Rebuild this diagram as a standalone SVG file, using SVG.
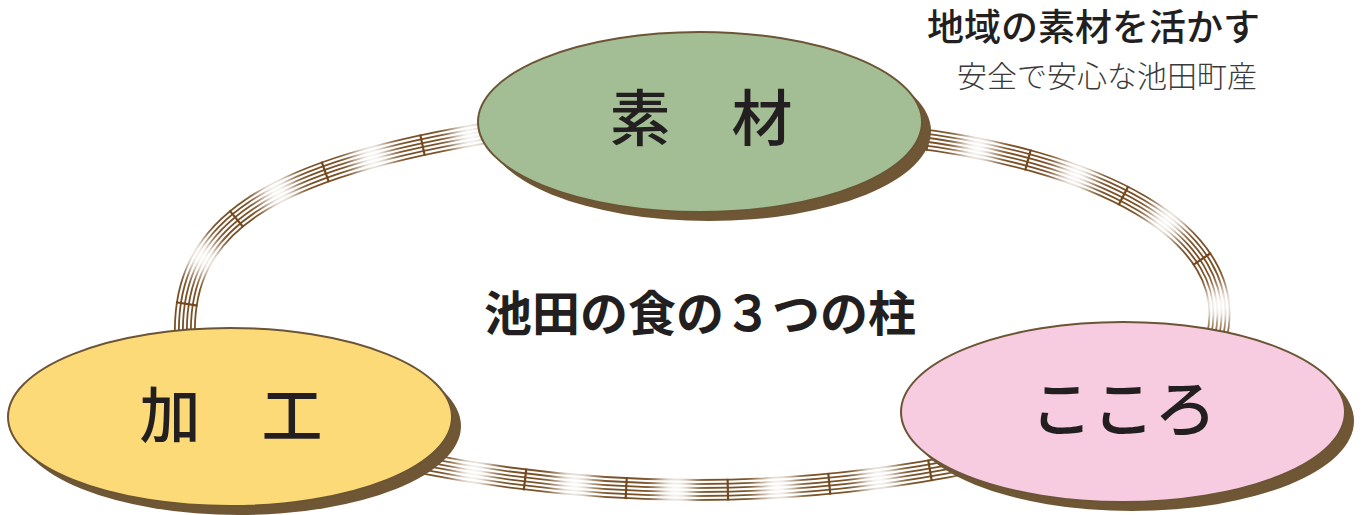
<svg xmlns="http://www.w3.org/2000/svg" width="1369" height="515" viewBox="0 0 1369 515">
  <defs>
    <style>
      .jp { font-family: "Noto Sans CJK JP", "Noto Sans CJK SC", sans-serif; fill: #231f20; }
      .label { font-size: 61px; font-weight: 500; text-anchor: middle; }
      .shadow { fill: #6f5736; }
      .pill { stroke: #6b5535; stroke-width: 2; }
      .r1 { fill: none; stroke: #7a5127; stroke-width: 21.8; }
      .r2 { fill: none; stroke: #ffffff; stroke-width: 18.2; }
      .r3 { fill: none; stroke: #7a5127; stroke-width: 13.8; }
      .r4 { fill: none; stroke: #ffffff; stroke-width: 10.2; }
      .r5 { fill: none; stroke: #7a5127; stroke-width: 5.8; }
      .r6 { fill: none; stroke: #ffffff; stroke-width: 2.2; }
      .glow { fill: none; stroke: #ffffff; stroke-width: 40; filter: url(#soften); }
      .tick { fill: none; stroke: #74491f; stroke-width: 21.8; }
    </style>
    <filter id="soften" filterUnits="userSpaceOnUse" x="0" y="0" width="1369" height="515">
      <feGaussianBlur stdDeviation="9"/>
    </filter>
    <!-- rope centre lines -->
    <path id="rope-left" d="M185 338 C181 228 262 168 505 130" pathLength="421"/>
    <path id="rope-right" d="M905 137 C1090 158 1245 230 1216 340" pathLength="414"/>
    <path id="rope-bottom" d="M415 462 Q700 518 975 462" pathLength="564"/>
  </defs>

  <!-- ropes: six parallel strands, soft light spots, cross bindings -->
  <g id="connectors">
    <g id="rope-kako-sozai">
      <use href="#rope-left" class="r1"/><use href="#rope-left" class="r2"/>
      <use href="#rope-left" class="r3"/><use href="#rope-left" class="r4"/>
      <use href="#rope-left" class="r5"/><use href="#rope-left" class="r6"/>
      <use href="#rope-left" class="glow" stroke-dasharray="34 67" stroke-dashoffset="34.5"/>
      <use href="#rope-left" class="tick" stroke-dasharray="2.2 98.8" stroke-dashoffset="68"/>
    </g>
    <g id="rope-sozai-kokoro">
      <use href="#rope-right" class="r1"/><use href="#rope-right" class="r2"/>
      <use href="#rope-right" class="r3"/><use href="#rope-right" class="r4"/>
      <use href="#rope-right" class="r5"/><use href="#rope-right" class="r6"/>
      <use href="#rope-right" class="glow" stroke-dasharray="34 68" stroke-dashoffset="46"/>
      <use href="#rope-right" class="tick" stroke-dasharray="2.2 99.8" stroke-dashoffset="80"/>
    </g>
    <g id="rope-kako-kokoro">
      <use href="#rope-bottom" class="r1"/><use href="#rope-bottom" class="r2"/>
      <use href="#rope-bottom" class="r3"/><use href="#rope-bottom" class="r4"/>
      <use href="#rope-bottom" class="r5"/><use href="#rope-bottom" class="r6"/>
      <use href="#rope-bottom" class="glow" stroke-dasharray="34 67.7" stroke-dashoffset="59.2"/>
      <use href="#rope-bottom" class="tick" stroke-dasharray="2.2 99.5" stroke-dashoffset="93.1"/>
    </g>
  </g>

  <g id="node-sozai">
    <ellipse class="shadow" cx="709" cy="131" rx="222" ry="90"/>
    <ellipse class="pill" cx="700" cy="122" rx="222" ry="90" fill="#a3be94"/>
    <text class="jp label" x="701" y="141">素　材</text>
  </g>

  <g id="node-kako">
    <ellipse class="shadow" cx="239" cy="426" rx="222" ry="89"/>
    <ellipse class="pill" cx="230" cy="417" rx="222" ry="89" fill="#fdda78"/>
    <text class="jp label" x="231" y="438">加　工</text>
  </g>

  <g id="node-kokoro">
    <ellipse class="shadow" cx="1132" cy="421" rx="222" ry="90"/>
    <ellipse class="pill" cx="1123" cy="412" rx="222" ry="90" fill="#f7cbe0"/>
    <text class="jp label" x="1123.5" y="432" style="font-size:62px">こころ</text>
  </g>

  <g id="title">
    <text class="jp" x="700" y="331" text-anchor="middle" font-size="48" font-weight="700">池田の食の３つの柱</text>
  </g>

  <g id="caption">
    <text class="jp" x="927" y="41" font-size="37" font-weight="500">地域の素材を活かす</text>
    <text class="jp" x="957" y="87" font-size="30" font-weight="300" style="fill:#3a3a3a">安全で安心な池田町産</text>
  </g>
</svg>
